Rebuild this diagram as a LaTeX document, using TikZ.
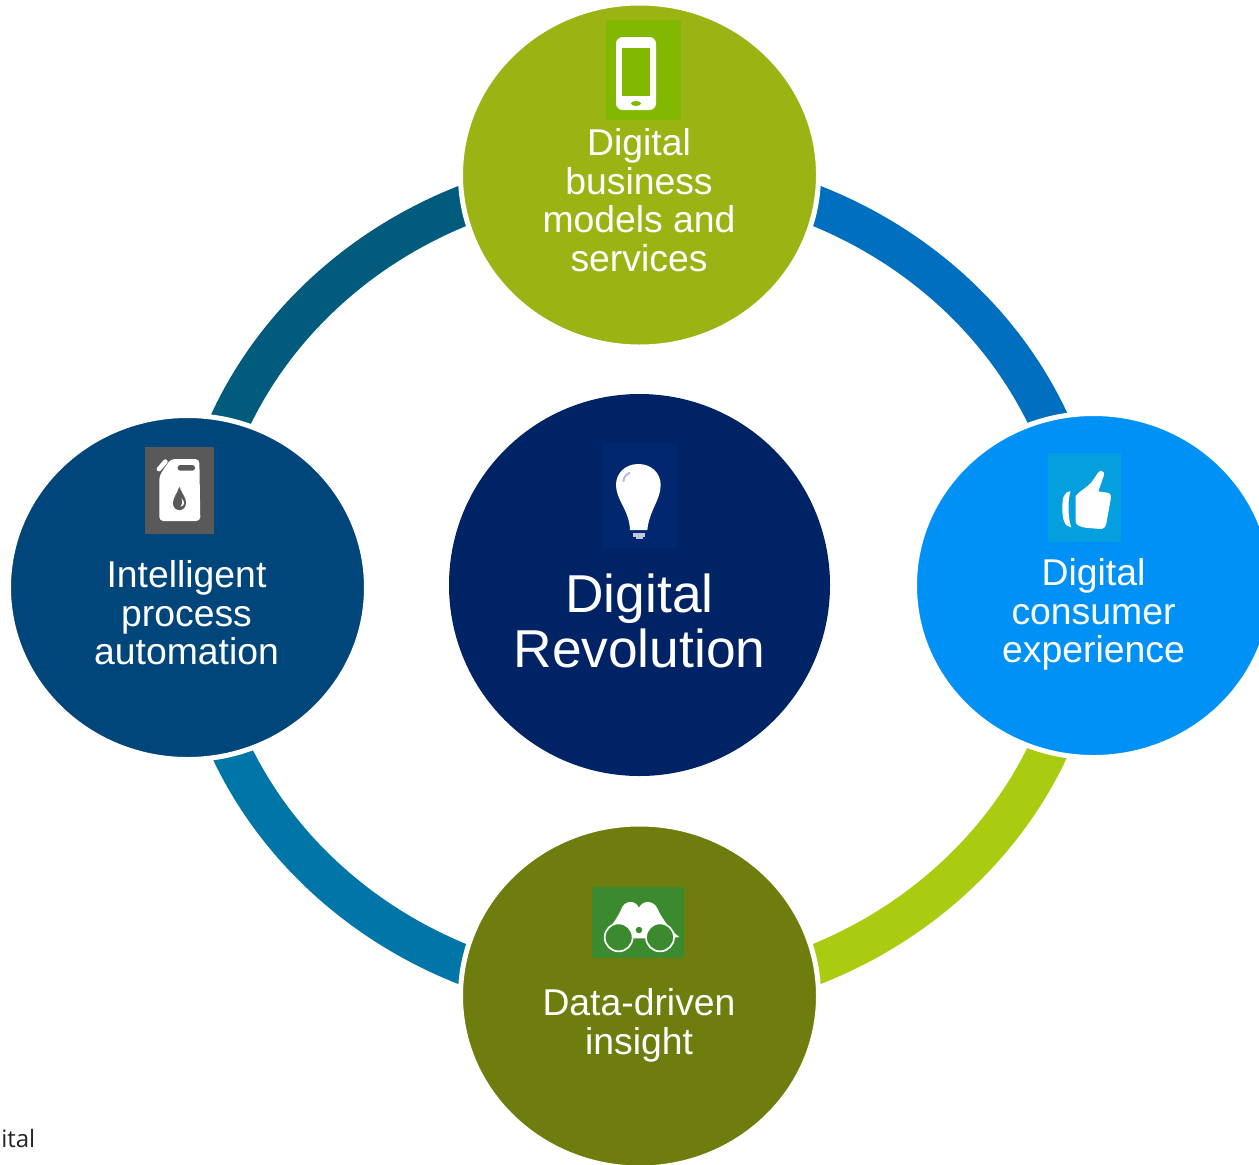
\documentclass[tikz,border=0pt]{standalone}
\usepackage{fontspec}
\setmainfont{Liberation Sans}
\newfontfamily\notefont{Open Sans}
\usetikzlibrary{shapes.geometric}
\definecolor{cTop}{HTML}{9BB313}
\definecolor{cRight}{HTML}{0091F7}
\definecolor{cBottom}{HTML}{6E7D0D}
\definecolor{cLeft}{HTML}{00467A}
\definecolor{cMid}{HTML}{002366}
\definecolor{sTR}{HTML}{006FBF}
\definecolor{sRB}{HTML}{A9CC10}
\definecolor{sBL}{HTML}{0076A8}
\definecolor{sLT}{HTML}{005B7C}
\definecolor{iPhone}{HTML}{82B900}
\definecolor{iThumb}{HTML}{049FDF}
\definecolor{iBino}{HTML}{3B8A2E}
\definecolor{iCan}{HTML}{595959}
\definecolor{iBulb}{HTML}{01276F}
\tikzset{
  blob/.style={ellipse,draw=white,line width=3.75pt,inner sep=0pt,minimum width=268.5pt,minimum height=258pt},
  ringseg/.style={line width=30pt,line cap=butt},
  lab/.style={text=white,align=center,font=\fontsize{28}{28.9}\selectfont,inner sep=0pt},
  iconpx/.style={x=0.25pt,y=-0.25pt}
}
\begin{document}
\begin{tikzpicture}[x=0.75pt,y=-0.75pt]
\clip (0,0) rectangle (1259,1164);
\fill[white] (0,0) rectangle (1259,1164);
% anchors for the ring
\coordinate (rt) at (639.5,172);
\coordinate (rr) at (1085.5,585);
\coordinate (rb) at (639.5,998);
\coordinate (rl) at (193.5,585);
\draw[ringseg,sTR] (rt) .. controls +(246,0) and +(0,-228) .. (rr);
\draw[ringseg,sRB] (rr) .. controls +(0,228) and +(246,0) .. (rb);
\draw[ringseg,sBL] (rb) .. controls +(-246,0) and +(0,228) .. (rl);
\draw[ringseg,sLT] (rl) .. controls +(0,-228) and +(-246,0) .. (rt);
% circles
\node[blob,fill=cTop] (top) at (639.5,175) {};
\node[blob,fill=cRight] (right) at (1093.5,585.5) {};
\node[blob,fill=cBottom] (bottom) at (639.5,996) {};
\node[blob,fill=cLeft] (left) at (187.5,587.5) {};
\node[ellipse,fill=cMid,inner sep=0pt,minimum width=285.75pt,minimum height=286.5pt] (mid) at (639.5,585) {};
% labels
\node[lab] (ltop) at (639,200) {Digital\\business\\models and\\services};
\node[lab] (lright) at (1093.5,614.5) {Digital\\consumer\\experience};
\node[lab] (lbottom) at (639,1025.5) {Data-driven\\insight};
\node[lab] (lleft) at (186.5,613) {Intelligent\\process\\automation};
\node[text=white,align=center,inner sep=0pt,font=\fontsize{40}{41.3}\selectfont] (lmid) at (639.5,621) {Digital\\Revolution};
\node[anchor=base west,inner sep=0pt,font=\notefont\fontsize{18}{20}\selectfont,text=black!85] (note) at (1,1147) {ital};
% phone icon
\fill[iPhone] (606,20) rectangle (681,120);
\fill[white,rounded corners=5pt] (616,37) rectangle (656,110);
\fill[iPhone] (622,48) rectangle (650,96);
\fill[iPhone] (636,103.5) ellipse (5 and 2.5);
% thumb icon
\fill[iThumb] (1048,453) rectangle (1121,542);
\begin{scope}[shift={(1030,440)},iconpx]
\fill[white] (212,92) .. controls (220,92) and (224,98) .. (221,108) -- (205,154) -- (232,158) .. controls (243,160) and (244,168) .. (242,178) -- (229,250) .. controls (227,262) and (220,267) .. (210,267) -- (165,263) .. controls (150,260) and (137,255) .. (137,245) -- (137,168) .. controls (150,152) and (172,142) .. (186,125) .. controls (196,112) and (202,96) .. (212,92) -- cycle;
\fill[white] (122,154) .. controls (100,156) and (97,175) .. (97,205) .. controls (97,240) and (104,260) .. (124,262) .. controls (114,240) and (112,175) .. (122,154) -- cycle;
\end{scope}
% binoculars icon
\fill[iBino] (592,887) rectangle (684,958);
\begin{scope}[shift={(580,875)},iconpx]
\fill[white] (78,175) .. controls (95,150) and (115,125) .. (125,100) .. controls (132,78) and (165,72) .. (177,98) .. controls (190,72) and (222,78) .. (232,100) .. controls (245,130) and (275,170) .. (298,186) -- (270,190) -- (78,190) -- cycle;
\fill[iBino,draw=white,line width=1.3pt] (116,187) circle (42);
\fill[iBino,draw=white,line width=1.3pt] (240,187) circle (42);
\fill[iBino,draw=white,line width=1.3pt] (177,165) circle (13);
\end{scope}
% jerrycan icon
\fill[iCan] (145,447) rectangle (214,534);
\begin{scope}[shift={(130,435)},iconpx]
\fill[white,rounded corners=3pt] (122,72) -- (208,72) -- (211,258) -- (88,258) -- (88,122) -- cycle;
\draw[white,line width=3.5pt,line cap=round] (87,102) -- (106,80);
\fill[iCan,rounded corners=2pt] (143,90) rectangle (195,107);
\fill[iCan] (148,155) .. controls (155,175) and (170,190) .. (168,205) .. controls (166,232) and (130,232) .. (129,205) .. controls (128,190) and (142,175) .. (148,155) -- cycle;
\fill[white] (155,190) .. controls (165,200) and (165,212) .. (152,215) .. controls (158,208) and (158,200) .. (155,190) -- cycle;
\end{scope}
% bulb icon
\fill[iBulb] (602,443) rectangle (677,548);
\begin{scope}[shift={(590,435)},iconpx]
\fill[white] (145,87) .. controls (185,87) and (212,115) .. (212,150) .. controls (212,195) and (178,225) .. (172,285) -- (120,285) .. controls (118,225) and (78,195) .. (78,150) .. controls (78,115) and (105,87) .. (145,87) -- cycle;
\fill[white!75!iBulb] (130,293) rectangle (165,305);
\fill[white!75!iBulb] (138,305) rectangle (158,313);
\draw[white!70!iBulb,line width=1.5pt] (100,140) .. controls (102,125) and (108,118) .. (120,113);
\end{scope}
\end{tikzpicture}
\end{document}
